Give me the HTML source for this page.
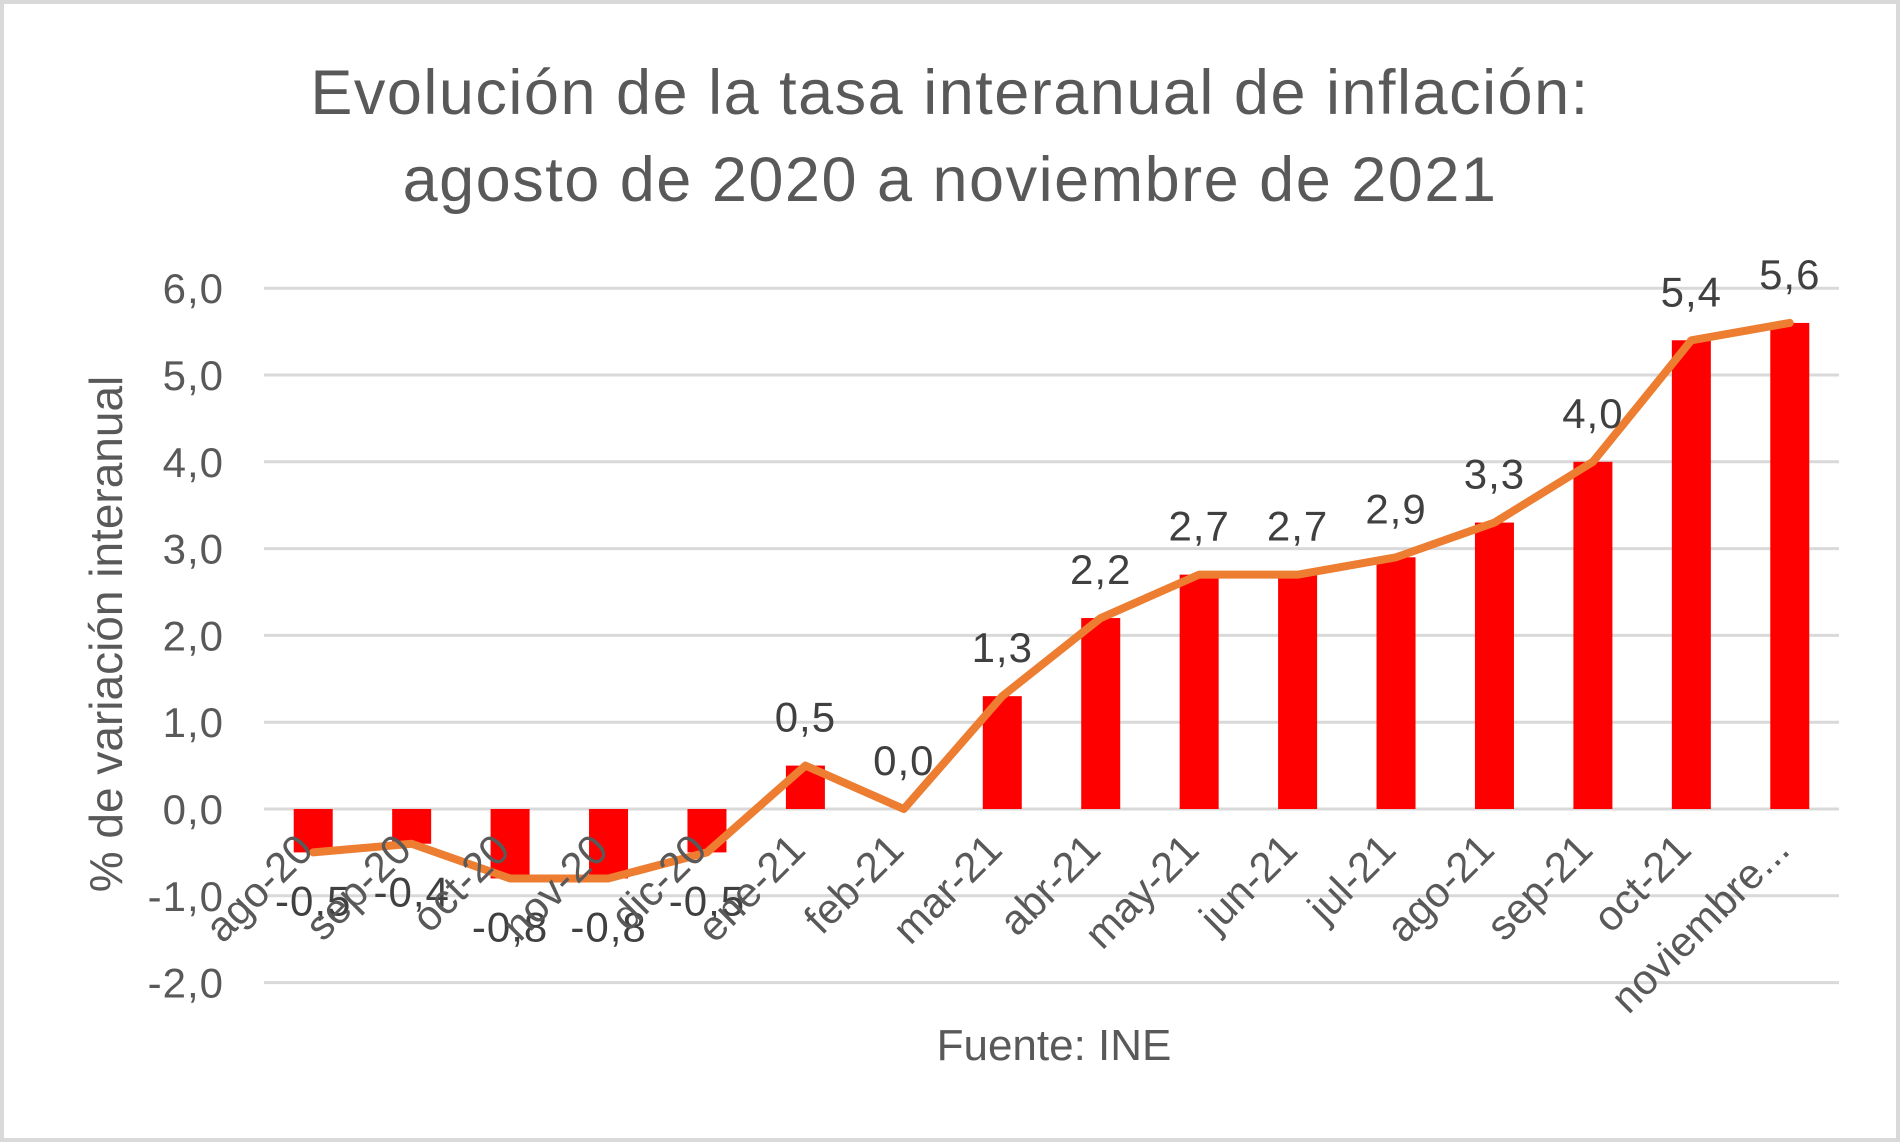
<!DOCTYPE html>
<html><head><meta charset="utf-8"><style>
html,body{margin:0;padding:0;background:#fff;}
svg{display:block;font-family:"Liberation Sans",sans-serif;}
</style></head><body>
<svg id="chart" width="1900" height="1142" viewBox="0 0 1900 1142">
<rect x="2" y="2" width="1896" height="1138" fill="#fff" stroke="#d9d9d9" stroke-width="4"/>
<text x="950" y="114" text-anchor="middle" font-size="63" letter-spacing="1.5" fill="#595959">Evolución de la tasa interanual de inflación:</text>
<text x="950" y="201" text-anchor="middle" font-size="63" letter-spacing="1.5" fill="#595959">agosto de 2020 a noviembre de 2021</text>
<text transform="translate(122,634) rotate(-90)" text-anchor="middle" font-size="46" fill="#595959">% de variación interanual</text>
<text x="1054" y="1060" text-anchor="middle" font-size="44" fill="#595959">Fuente: INE</text>
<g id="grid"></g><g id="bars"></g><g id="line"></g><g id="labels"></g>
</svg>
<script>
const categories=["ago-20","sep-20","oct-20","nov-20","dic-20","ene-21","feb-21","mar-21","abr-21","may-21","jun-21","jul-21","ago-21","sep-21","oct-21","noviembre..."];
const values=[-0.5,-0.4,-0.8,-0.8,-0.5,0.5,0.0,1.3,2.2,2.7,2.7,2.9,3.3,4.0,5.4,5.6];
const yTicks=[6,5,4,3,2,1,0,-1,-2];
const NS="http://www.w3.org/2000/svg";
const x0=264,x1=1839,yZero=809,unit=86.8;
const band=(x1-x0)/categories.length;
function xc(i){return x0+band*(i+0.5);}
function y(v){return yZero-v*unit;}
function mk(tag,attrs,parent){const e=document.createElementNS(NS,tag);for(const k in attrs)e.setAttribute(k,attrs[k]);document.getElementById(parent).appendChild(e);return e;}
const fmt=v=>v.toFixed(1).replace('.',',');
yTicks.forEach(t=>{
 const l=mk('line',{x1:x0,x2:x1,y1:y(t),y2:y(t),stroke:'#d9d9d9','stroke-width':3},'grid');
 
 
 const tx=mk('text',{x:224,y:y(t)+15,'text-anchor':'end','font-size':42,'letter-spacing':1,fill:'#595959'},'grid');
 tx.textContent=fmt(t);
 
 
});
const bw=39;
values.forEach((v,i)=>{
 const r=mk('rect',{x:xc(i)-bw/2,y:Math.min(y(v),y(0)),width:bw,height:Math.abs(y(v)-y(0)),fill:'#ff0000'},'bars');
 
 
});
const pts=values.map((v,i)=>xc(i)+','+y(v)).join(' ');
const pl=mk('polyline',{points:pts,fill:'none',stroke:'#ed7d31','stroke-width':8,'stroke-linejoin':'round','stroke-linecap':'round'},'line');


values.forEach((v,i)=>{
 const ly=v<0?y(v)+63:y(v)-34;
 const t=mk('text',{x:xc(i),y:ly,'text-anchor':'middle','font-size':42,'letter-spacing':1,fill:'#404040'},'labels');
 t.textContent=fmt(v);
 
 
});
categories.forEach((c,i)=>{
 const ax=xc(i)+2, ay=852;
 const t=mk('text',{x:ax,y:ay,'text-anchor':'end','font-size':42,fill:'#595959',transform:`rotate(-45 ${ax} ${ay})`},'labels');
 t.textContent=c;
 
 
});
</script>
</body></html>
